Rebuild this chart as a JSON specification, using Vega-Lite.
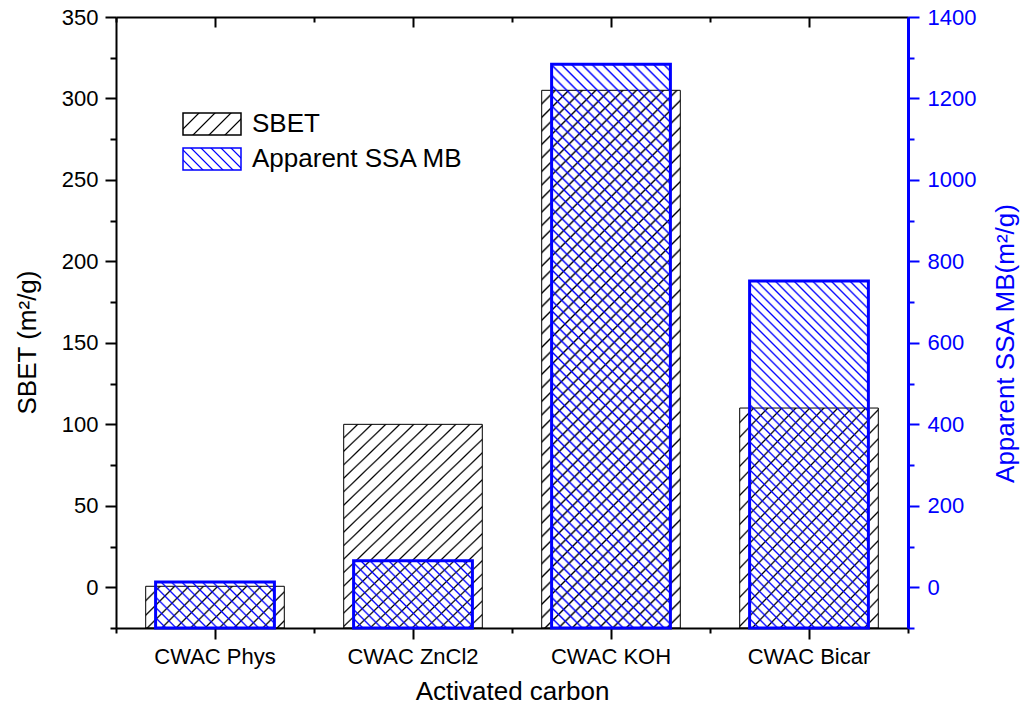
{
"$schema": "https://vega.github.io/schema/vega-lite/v6.json",
"width": 792,
"height": 611,
"autosize": {"type": "none"},
"padding": {"left": 116, "top": 17, "right": 116, "bottom": 87},
"background": "white",
"config": {
  "view": {"stroke": null},
  "font": "Liberation Sans",
  "axis": {"grid": false, "zindex": 1, "labelFont": "Liberation Sans", "titleFont": "Liberation Sans", "labelFontSize": 22, "titleFontSize": 26, "titleFontWeight": "normal", "domainWidth": 2, "tickWidth": 2, "domainColor": "#000", "tickColor": "#000", "labelColor": "#000", "titleColor": "#000"},
  "legend": {"title": null, "orient": "none", "legendX": 66, "legendY": 94.5, "direction": "vertical", "symbolSize": 3364, "symbolOpacity": 1, "clipHeight": 25, "rowPadding": 8, "labelOffset": 10, "labelFont": "Liberation Sans", "labelFontSize": 26, "labelColor": "#000", "labelLimit": 400, "padding": 0}
},
"data": {"values": [
  {"cat": "CWAC Phys", "sbet": 0.6, "ssa": 13},
  {"cat": "CWAC ZnCl2", "sbet": 100, "ssa": 65},
  {"cat": "CWAC KOH", "sbet": 305, "ssa": 1284},
  {"cat": "CWAC Bicar", "sbet": 110, "ssa": 752}
]},
"layer": [
{
  "mark": {"type": "bar", "width": {"band": 0.7}, "stroke": "#000", "strokeWidth": 1},
  "encoding": {
    "x": {"field": "cat", "type": "nominal", "scale": {"domain": ["CWAC Phys", "CWAC ZnCl2", "CWAC KOH", "CWAC Bicar"], "paddingInner": 0, "paddingOuter": 0},
      "axis": {"orient": "bottom", "title": "Activated carbon", "labelAngle": 0, "tickSize": 11, "labelPadding": 7, "titleX": 396, "titleY": 71, "titleBaseline": "alphabetic"}},
    "y": {"field": "sbet", "type": "quantitative", "scale": {"domain": [-25, 350], "nice": false, "zero": false},
      "axis": {"orient": "left", "values": [0, 50, 100, 150, 200, 250, 300, 350], "tickSize": 11, "labelPadding": 7, "format": "d", "title": "SBET (m²/g)", "titleAngle": 270, "titleX": -76, "titleY": 325, "titleBaseline": "bottom", "titleAlign": "center"}},
    "y2": {"datum": -25},
    "fill": {
      "condition": [
        {"test": "datum.cat === 'CWAC Phys'", "value": {"gradient": "linear", "x1": 0, "y1": 0, "x2": 1.1929, "y2": 0.3589, "stops": [
{"offset":0.07,"color":"#0000"},{"offset":0.08,"color":"#000"},{"offset":0.09,"color":"#0000"},
{"offset":0.15,"color":"#0000"},{"offset":0.16,"color":"#000"},{"offset":0.17,"color":"#0000"},
{"offset":0.23,"color":"#0000"},{"offset":0.24,"color":"#000"},{"offset":0.25,"color":"#0000"},
{"offset":0.31,"color":"#0000"},{"offset":0.32,"color":"#000"},{"offset":0.33,"color":"#0000"},
{"offset":0.39,"color":"#0000"},{"offset":0.40,"color":"#000"},{"offset":0.41,"color":"#0000"},
{"offset":0.47,"color":"#0000"},{"offset":0.48,"color":"#000"},{"offset":0.49,"color":"#0000"},
{"offset":0.55,"color":"#0000"},{"offset":0.56,"color":"#000"},{"offset":0.57,"color":"#0000"},
{"offset":0.63,"color":"#0000"},{"offset":0.64,"color":"#000"},{"offset":0.65,"color":"#0000"},
{"offset":0.71,"color":"#0000"},{"offset":0.72,"color":"#000"},{"offset":0.73,"color":"#0000"},
{"offset":0.79,"color":"#0000"},{"offset":0.80,"color":"#000"},{"offset":0.81,"color":"#0000"},
{"offset":0.87,"color":"#0000"},{"offset":0.88,"color":"#000"},{"offset":0.89,"color":"#0000"},
{"offset":0.95,"color":"#0000"},{"offset":0.96,"color":"#000"},{"offset":0.97,"color":"#0000"}
        ]}},
        {"test": "datum.cat === 'CWAC KOH'", "value": {"gradient": "linear", "x1": 0, "y1": 0, "x2": 0.3040, "y2": 1.1794, "stops": [
{"offset":0.017,"color":"#0000"},{"offset":0.02,"color":"#000"},{"offset":0.023,"color":"#0000"},
{"offset":0.037,"color":"#0000"},{"offset":0.04,"color":"#000"},{"offset":0.043,"color":"#0000"},
{"offset":0.057,"color":"#0000"},{"offset":0.06,"color":"#000"},{"offset":0.063,"color":"#0000"},
{"offset":0.077,"color":"#0000"},{"offset":0.08,"color":"#000"},{"offset":0.083,"color":"#0000"},
{"offset":0.097,"color":"#0000"},{"offset":0.1,"color":"#000"},{"offset":0.103,"color":"#0000"},
{"offset":0.117,"color":"#0000"},{"offset":0.12,"color":"#000"},{"offset":0.123,"color":"#0000"},
{"offset":0.137,"color":"#0000"},{"offset":0.14,"color":"#000"},{"offset":0.143,"color":"#0000"},
{"offset":0.157,"color":"#0000"},{"offset":0.16,"color":"#000"},{"offset":0.163,"color":"#0000"},
{"offset":0.177,"color":"#0000"},{"offset":0.18,"color":"#000"},{"offset":0.183,"color":"#0000"},
{"offset":0.197,"color":"#0000"},{"offset":0.2,"color":"#000"},{"offset":0.203,"color":"#0000"},
{"offset":0.217,"color":"#0000"},{"offset":0.22,"color":"#000"},{"offset":0.223,"color":"#0000"},
{"offset":0.237,"color":"#0000"},{"offset":0.24,"color":"#000"},{"offset":0.243,"color":"#0000"},
{"offset":0.257,"color":"#0000"},{"offset":0.26,"color":"#000"},{"offset":0.263,"color":"#0000"},
{"offset":0.277,"color":"#0000"},{"offset":0.28,"color":"#000"},{"offset":0.283,"color":"#0000"},
{"offset":0.297,"color":"#0000"},{"offset":0.3,"color":"#000"},{"offset":0.303,"color":"#0000"},
{"offset":0.317,"color":"#0000"},{"offset":0.32,"color":"#000"},{"offset":0.323,"color":"#0000"},
{"offset":0.337,"color":"#0000"},{"offset":0.34,"color":"#000"},{"offset":0.343,"color":"#0000"},
{"offset":0.357,"color":"#0000"},{"offset":0.36,"color":"#000"},{"offset":0.363,"color":"#0000"},
{"offset":0.377,"color":"#0000"},{"offset":0.38,"color":"#000"},{"offset":0.383,"color":"#0000"},
{"offset":0.397,"color":"#0000"},{"offset":0.4,"color":"#000"},{"offset":0.403,"color":"#0000"},
{"offset":0.417,"color":"#0000"},{"offset":0.42,"color":"#000"},{"offset":0.423,"color":"#0000"},
{"offset":0.437,"color":"#0000"},{"offset":0.44,"color":"#000"},{"offset":0.443,"color":"#0000"},
{"offset":0.457,"color":"#0000"},{"offset":0.46,"color":"#000"},{"offset":0.463,"color":"#0000"},
{"offset":0.477,"color":"#0000"},{"offset":0.48,"color":"#000"},{"offset":0.483,"color":"#0000"},
{"offset":0.497,"color":"#0000"},{"offset":0.5,"color":"#000"},{"offset":0.503,"color":"#0000"},
{"offset":0.517,"color":"#0000"},{"offset":0.52,"color":"#000"},{"offset":0.523,"color":"#0000"},
{"offset":0.537,"color":"#0000"},{"offset":0.54,"color":"#000"},{"offset":0.543,"color":"#0000"},
{"offset":0.557,"color":"#0000"},{"offset":0.56,"color":"#000"},{"offset":0.563,"color":"#0000"},
{"offset":0.577,"color":"#0000"},{"offset":0.58,"color":"#000"},{"offset":0.583,"color":"#0000"},
{"offset":0.597,"color":"#0000"},{"offset":0.6,"color":"#000"},{"offset":0.603,"color":"#0000"},
{"offset":0.617,"color":"#0000"},{"offset":0.62,"color":"#000"},{"offset":0.623,"color":"#0000"},
{"offset":0.637,"color":"#0000"},{"offset":0.64,"color":"#000"},{"offset":0.643,"color":"#0000"},
{"offset":0.657,"color":"#0000"},{"offset":0.66,"color":"#000"},{"offset":0.663,"color":"#0000"},
{"offset":0.677,"color":"#0000"},{"offset":0.68,"color":"#000"},{"offset":0.683,"color":"#0000"},
{"offset":0.697,"color":"#0000"},{"offset":0.7,"color":"#000"},{"offset":0.703,"color":"#0000"},
{"offset":0.717,"color":"#0000"},{"offset":0.72,"color":"#000"},{"offset":0.723,"color":"#0000"},
{"offset":0.737,"color":"#0000"},{"offset":0.74,"color":"#000"},{"offset":0.743,"color":"#0000"},
{"offset":0.757,"color":"#0000"},{"offset":0.76,"color":"#000"},{"offset":0.763,"color":"#0000"},
{"offset":0.777,"color":"#0000"},{"offset":0.78,"color":"#000"},{"offset":0.783,"color":"#0000"},
{"offset":0.797,"color":"#0000"},{"offset":0.8,"color":"#000"},{"offset":0.803,"color":"#0000"},
{"offset":0.817,"color":"#0000"},{"offset":0.82,"color":"#000"},{"offset":0.823,"color":"#0000"},
{"offset":0.837,"color":"#0000"},{"offset":0.84,"color":"#000"},{"offset":0.843,"color":"#0000"},
{"offset":0.857,"color":"#0000"},{"offset":0.86,"color":"#000"},{"offset":0.863,"color":"#0000"},
{"offset":0.877,"color":"#0000"},{"offset":0.88,"color":"#000"},{"offset":0.883,"color":"#0000"},
{"offset":0.897,"color":"#0000"},{"offset":0.9,"color":"#000"},{"offset":0.903,"color":"#0000"},
{"offset":0.917,"color":"#0000"},{"offset":0.92,"color":"#000"},{"offset":0.923,"color":"#0000"},
{"offset":0.937,"color":"#0000"},{"offset":0.94,"color":"#000"},{"offset":0.943,"color":"#0000"},
{"offset":0.957,"color":"#0000"},{"offset":0.96,"color":"#000"},{"offset":0.963,"color":"#0000"},
{"offset":0.977,"color":"#0000"},{"offset":0.98,"color":"#000"},{"offset":0.983,"color":"#0000"}
        ]}}
      ],
      "value": {"gradient": "linear", "x1": 0, "y1": 0, "x2": 0.7575, "y2": 1.1586, "stops": [
{"offset":0.035,"color":"#0000"},{"offset":0.04,"color":"#000"},{"offset":0.045,"color":"#0000"},
{"offset":0.075,"color":"#0000"},{"offset":0.08,"color":"#000"},{"offset":0.085,"color":"#0000"},
{"offset":0.115,"color":"#0000"},{"offset":0.12,"color":"#000"},{"offset":0.125,"color":"#0000"},
{"offset":0.155,"color":"#0000"},{"offset":0.16,"color":"#000"},{"offset":0.165,"color":"#0000"},
{"offset":0.195,"color":"#0000"},{"offset":0.2,"color":"#000"},{"offset":0.205,"color":"#0000"},
{"offset":0.235,"color":"#0000"},{"offset":0.24,"color":"#000"},{"offset":0.245,"color":"#0000"},
{"offset":0.275,"color":"#0000"},{"offset":0.28,"color":"#000"},{"offset":0.285,"color":"#0000"},
{"offset":0.315,"color":"#0000"},{"offset":0.32,"color":"#000"},{"offset":0.325,"color":"#0000"},
{"offset":0.355,"color":"#0000"},{"offset":0.36,"color":"#000"},{"offset":0.365,"color":"#0000"},
{"offset":0.395,"color":"#0000"},{"offset":0.4,"color":"#000"},{"offset":0.405,"color":"#0000"},
{"offset":0.435,"color":"#0000"},{"offset":0.44,"color":"#000"},{"offset":0.445,"color":"#0000"},
{"offset":0.475,"color":"#0000"},{"offset":0.48,"color":"#000"},{"offset":0.485,"color":"#0000"},
{"offset":0.515,"color":"#0000"},{"offset":0.52,"color":"#000"},{"offset":0.525,"color":"#0000"},
{"offset":0.555,"color":"#0000"},{"offset":0.56,"color":"#000"},{"offset":0.565,"color":"#0000"},
{"offset":0.595,"color":"#0000"},{"offset":0.6,"color":"#000"},{"offset":0.605,"color":"#0000"},
{"offset":0.635,"color":"#0000"},{"offset":0.64,"color":"#000"},{"offset":0.645,"color":"#0000"},
{"offset":0.675,"color":"#0000"},{"offset":0.68,"color":"#000"},{"offset":0.685,"color":"#0000"},
{"offset":0.715,"color":"#0000"},{"offset":0.72,"color":"#000"},{"offset":0.725,"color":"#0000"},
{"offset":0.755,"color":"#0000"},{"offset":0.76,"color":"#000"},{"offset":0.765,"color":"#0000"},
{"offset":0.795,"color":"#0000"},{"offset":0.8,"color":"#000"},{"offset":0.805,"color":"#0000"},
{"offset":0.835,"color":"#0000"},{"offset":0.84,"color":"#000"},{"offset":0.845,"color":"#0000"},
{"offset":0.875,"color":"#0000"},{"offset":0.88,"color":"#000"},{"offset":0.885,"color":"#0000"},
{"offset":0.915,"color":"#0000"},{"offset":0.92,"color":"#000"},{"offset":0.925,"color":"#0000"},
{"offset":0.955,"color":"#0000"},{"offset":0.96,"color":"#000"},{"offset":0.965,"color":"#0000"}
      ]}
    }
  }
},
{
  "mark": {"type": "bar", "width": {"band": 0.6}, "stroke": "#0000ff", "strokeWidth": 3},
  "encoding": {
    "x": {"field": "cat", "type": "nominal", "scale": {"domain": ["CWAC Phys", "CWAC ZnCl2", "CWAC KOH", "CWAC Bicar"], "paddingInner": 0, "paddingOuter": 0}, "axis": null},
    "y": {"field": "ssa", "type": "quantitative", "scale": {"domain": [-100, 1400], "nice": false, "zero": false},
      "axis": {"orient": "right", "values": [0, 200, 400, 600, 800, 1000, 1200, 1400], "tickSize": 11, "labelPadding": 8, "format": "d", "domainColor": "#0000ff", "domainWidth": 3, "tickColor": "#0000ff", "labelColor": "#0000ff", "titleColor": "#0000ff", "title": "Apparent SSA MB(m²/g)", "titleAngle": 270, "titleX": 110, "titleY": 326, "titleBaseline": "bottom", "titleAlign": "center"}},
    "y2": {"datum": -100},
    "fill": {
      "condition": [
        {"test": "datum.cat === 'CWAC Phys'", "value": {"gradient": "linear", "x1": 0, "y1": 1, "x2": 1.2064, "y2": 0.5329, "stops": [
{"offset":0.0515,"color":"#00f0"},{"offset":0.0625,"color":"#00f"},{"offset":0.0735,"color":"#00f0"},
{"offset":0.114,"color":"#00f0"},{"offset":0.125,"color":"#00f"},{"offset":0.136,"color":"#00f0"},
{"offset":0.1765,"color":"#00f0"},{"offset":0.1875,"color":"#00f"},{"offset":0.1985,"color":"#00f0"},
{"offset":0.239,"color":"#00f0"},{"offset":0.25,"color":"#00f"},{"offset":0.261,"color":"#00f0"},
{"offset":0.3015,"color":"#00f0"},{"offset":0.3125,"color":"#00f"},{"offset":0.3235,"color":"#00f0"},
{"offset":0.364,"color":"#00f0"},{"offset":0.375,"color":"#00f"},{"offset":0.386,"color":"#00f0"},
{"offset":0.4265,"color":"#00f0"},{"offset":0.4375,"color":"#00f"},{"offset":0.4485,"color":"#00f0"},
{"offset":0.489,"color":"#00f0"},{"offset":0.5,"color":"#00f"},{"offset":0.511,"color":"#00f0"},
{"offset":0.5515,"color":"#00f0"},{"offset":0.5625,"color":"#00f"},{"offset":0.5735,"color":"#00f0"},
{"offset":0.614,"color":"#00f0"},{"offset":0.625,"color":"#00f"},{"offset":0.636,"color":"#00f0"},
{"offset":0.6765,"color":"#00f0"},{"offset":0.6875,"color":"#00f"},{"offset":0.6985,"color":"#00f0"},
{"offset":0.739,"color":"#00f0"},{"offset":0.75,"color":"#00f"},{"offset":0.761,"color":"#00f0"},
{"offset":0.8015,"color":"#00f0"},{"offset":0.8125,"color":"#00f"},{"offset":0.8235,"color":"#00f0"},
{"offset":0.864,"color":"#00f0"},{"offset":0.875,"color":"#00f"},{"offset":0.886,"color":"#00f0"},
{"offset":0.9265,"color":"#00f0"},{"offset":0.9375,"color":"#00f"},{"offset":0.9485,"color":"#00f0"}
        ]}},
        {"test": "datum.cat === 'CWAC ZnCl2'", "value": {"gradient": "linear", "x1": 0, "y1": 1, "x2": 1.1861, "y2": 0.3291, "stops": [
{"offset":0.04,"color":"#00f0"},{"offset":0.05,"color":"#00f"},{"offset":0.06,"color":"#00f0"},
{"offset":0.09,"color":"#00f0"},{"offset":0.1,"color":"#00f"},{"offset":0.11,"color":"#00f0"},
{"offset":0.14,"color":"#00f0"},{"offset":0.15,"color":"#00f"},{"offset":0.16,"color":"#00f0"},
{"offset":0.19,"color":"#00f0"},{"offset":0.2,"color":"#00f"},{"offset":0.21,"color":"#00f0"},
{"offset":0.24,"color":"#00f0"},{"offset":0.25,"color":"#00f"},{"offset":0.26,"color":"#00f0"},
{"offset":0.29,"color":"#00f0"},{"offset":0.3,"color":"#00f"},{"offset":0.31,"color":"#00f0"},
{"offset":0.34,"color":"#00f0"},{"offset":0.35,"color":"#00f"},{"offset":0.36,"color":"#00f0"},
{"offset":0.39,"color":"#00f0"},{"offset":0.4,"color":"#00f"},{"offset":0.41,"color":"#00f0"},
{"offset":0.44,"color":"#00f0"},{"offset":0.45,"color":"#00f"},{"offset":0.46,"color":"#00f0"},
{"offset":0.49,"color":"#00f0"},{"offset":0.5,"color":"#00f"},{"offset":0.51,"color":"#00f0"},
{"offset":0.54,"color":"#00f0"},{"offset":0.55,"color":"#00f"},{"offset":0.56,"color":"#00f0"},
{"offset":0.59,"color":"#00f0"},{"offset":0.6,"color":"#00f"},{"offset":0.61,"color":"#00f0"},
{"offset":0.64,"color":"#00f0"},{"offset":0.65,"color":"#00f"},{"offset":0.66,"color":"#00f0"},
{"offset":0.69,"color":"#00f0"},{"offset":0.7,"color":"#00f"},{"offset":0.71,"color":"#00f0"},
{"offset":0.74,"color":"#00f0"},{"offset":0.75,"color":"#00f"},{"offset":0.76,"color":"#00f0"},
{"offset":0.79,"color":"#00f0"},{"offset":0.8,"color":"#00f"},{"offset":0.81,"color":"#00f0"},
{"offset":0.84,"color":"#00f0"},{"offset":0.85,"color":"#00f"},{"offset":0.86,"color":"#00f0"},
{"offset":0.89,"color":"#00f0"},{"offset":0.9,"color":"#00f"},{"offset":0.91,"color":"#00f0"},
{"offset":0.94,"color":"#00f0"},{"offset":0.95,"color":"#00f"},{"offset":0.96,"color":"#00f0"}
        ]}},
        {"test": "datum.cat === 'CWAC KOH'", "value": {"gradient": "linear", "x1": 0, "y1": 1, "x2": 0.2443, "y2": -0.1592, "stops": [
{"offset":0.012,"color":"#00f0"},{"offset":0.015,"color":"#00f"},{"offset":0.018,"color":"#00f0"},
{"offset":0.027,"color":"#00f0"},{"offset":0.03,"color":"#00f"},{"offset":0.033,"color":"#00f0"},
{"offset":0.042,"color":"#00f0"},{"offset":0.045,"color":"#00f"},{"offset":0.048,"color":"#00f0"},
{"offset":0.057,"color":"#00f0"},{"offset":0.06,"color":"#00f"},{"offset":0.063,"color":"#00f0"},
{"offset":0.072,"color":"#00f0"},{"offset":0.075,"color":"#00f"},{"offset":0.078,"color":"#00f0"},
{"offset":0.087,"color":"#00f0"},{"offset":0.09,"color":"#00f"},{"offset":0.093,"color":"#00f0"},
{"offset":0.102,"color":"#00f0"},{"offset":0.105,"color":"#00f"},{"offset":0.108,"color":"#00f0"},
{"offset":0.117,"color":"#00f0"},{"offset":0.12,"color":"#00f"},{"offset":0.123,"color":"#00f0"},
{"offset":0.132,"color":"#00f0"},{"offset":0.135,"color":"#00f"},{"offset":0.138,"color":"#00f0"},
{"offset":0.147,"color":"#00f0"},{"offset":0.15,"color":"#00f"},{"offset":0.153,"color":"#00f0"},
{"offset":0.162,"color":"#00f0"},{"offset":0.165,"color":"#00f"},{"offset":0.168,"color":"#00f0"},
{"offset":0.177,"color":"#00f0"},{"offset":0.18,"color":"#00f"},{"offset":0.183,"color":"#00f0"},
{"offset":0.192,"color":"#00f0"},{"offset":0.195,"color":"#00f"},{"offset":0.198,"color":"#00f0"},
{"offset":0.207,"color":"#00f0"},{"offset":0.21,"color":"#00f"},{"offset":0.213,"color":"#00f0"},
{"offset":0.222,"color":"#00f0"},{"offset":0.225,"color":"#00f"},{"offset":0.228,"color":"#00f0"},
{"offset":0.237,"color":"#00f0"},{"offset":0.24,"color":"#00f"},{"offset":0.243,"color":"#00f0"},
{"offset":0.252,"color":"#00f0"},{"offset":0.255,"color":"#00f"},{"offset":0.258,"color":"#00f0"},
{"offset":0.267,"color":"#00f0"},{"offset":0.27,"color":"#00f"},{"offset":0.273,"color":"#00f0"},
{"offset":0.282,"color":"#00f0"},{"offset":0.285,"color":"#00f"},{"offset":0.288,"color":"#00f0"},
{"offset":0.297,"color":"#00f0"},{"offset":0.3,"color":"#00f"},{"offset":0.303,"color":"#00f0"},
{"offset":0.312,"color":"#00f0"},{"offset":0.315,"color":"#00f"},{"offset":0.318,"color":"#00f0"},
{"offset":0.327,"color":"#00f0"},{"offset":0.33,"color":"#00f"},{"offset":0.333,"color":"#00f0"},
{"offset":0.342,"color":"#00f0"},{"offset":0.345,"color":"#00f"},{"offset":0.348,"color":"#00f0"},
{"offset":0.357,"color":"#00f0"},{"offset":0.36,"color":"#00f"},{"offset":0.363,"color":"#00f0"},
{"offset":0.372,"color":"#00f0"},{"offset":0.375,"color":"#00f"},{"offset":0.378,"color":"#00f0"},
{"offset":0.387,"color":"#00f0"},{"offset":0.39,"color":"#00f"},{"offset":0.393,"color":"#00f0"},
{"offset":0.402,"color":"#00f0"},{"offset":0.405,"color":"#00f"},{"offset":0.408,"color":"#00f0"},
{"offset":0.417,"color":"#00f0"},{"offset":0.42,"color":"#00f"},{"offset":0.423,"color":"#00f0"},
{"offset":0.432,"color":"#00f0"},{"offset":0.435,"color":"#00f"},{"offset":0.438,"color":"#00f0"},
{"offset":0.447,"color":"#00f0"},{"offset":0.45,"color":"#00f"},{"offset":0.453,"color":"#00f0"},
{"offset":0.462,"color":"#00f0"},{"offset":0.465,"color":"#00f"},{"offset":0.468,"color":"#00f0"},
{"offset":0.477,"color":"#00f0"},{"offset":0.48,"color":"#00f"},{"offset":0.483,"color":"#00f0"},
{"offset":0.492,"color":"#00f0"},{"offset":0.495,"color":"#00f"},{"offset":0.498,"color":"#00f0"},
{"offset":0.507,"color":"#00f0"},{"offset":0.51,"color":"#00f"},{"offset":0.513,"color":"#00f0"},
{"offset":0.522,"color":"#00f0"},{"offset":0.525,"color":"#00f"},{"offset":0.528,"color":"#00f0"},
{"offset":0.537,"color":"#00f0"},{"offset":0.54,"color":"#00f"},{"offset":0.543,"color":"#00f0"},
{"offset":0.552,"color":"#00f0"},{"offset":0.555,"color":"#00f"},{"offset":0.558,"color":"#00f0"},
{"offset":0.567,"color":"#00f0"},{"offset":0.57,"color":"#00f"},{"offset":0.573,"color":"#00f0"},
{"offset":0.582,"color":"#00f0"},{"offset":0.585,"color":"#00f"},{"offset":0.588,"color":"#00f0"},
{"offset":0.597,"color":"#00f0"},{"offset":0.6,"color":"#00f"},{"offset":0.603,"color":"#00f0"},
{"offset":0.612,"color":"#00f0"},{"offset":0.615,"color":"#00f"},{"offset":0.618,"color":"#00f0"},
{"offset":0.627,"color":"#00f0"},{"offset":0.63,"color":"#00f"},{"offset":0.633,"color":"#00f0"},
{"offset":0.642,"color":"#00f0"},{"offset":0.645,"color":"#00f"},{"offset":0.648,"color":"#00f0"},
{"offset":0.657,"color":"#00f0"},{"offset":0.66,"color":"#00f"},{"offset":0.663,"color":"#00f0"},
{"offset":0.672,"color":"#00f0"},{"offset":0.675,"color":"#00f"},{"offset":0.678,"color":"#00f0"},
{"offset":0.687,"color":"#00f0"},{"offset":0.69,"color":"#00f"},{"offset":0.693,"color":"#00f0"},
{"offset":0.702,"color":"#00f0"},{"offset":0.705,"color":"#00f"},{"offset":0.708,"color":"#00f0"},
{"offset":0.717,"color":"#00f0"},{"offset":0.72,"color":"#00f"},{"offset":0.723,"color":"#00f0"},
{"offset":0.732,"color":"#00f0"},{"offset":0.735,"color":"#00f"},{"offset":0.738,"color":"#00f0"},
{"offset":0.747,"color":"#00f0"},{"offset":0.75,"color":"#00f"},{"offset":0.753,"color":"#00f0"},
{"offset":0.762,"color":"#00f0"},{"offset":0.765,"color":"#00f"},{"offset":0.768,"color":"#00f0"},
{"offset":0.777,"color":"#00f0"},{"offset":0.78,"color":"#00f"},{"offset":0.783,"color":"#00f0"},
{"offset":0.792,"color":"#00f0"},{"offset":0.795,"color":"#00f"},{"offset":0.798,"color":"#00f0"},
{"offset":0.807,"color":"#00f0"},{"offset":0.81,"color":"#00f"},{"offset":0.813,"color":"#00f0"},
{"offset":0.822,"color":"#00f0"},{"offset":0.825,"color":"#00f"},{"offset":0.828,"color":"#00f0"},
{"offset":0.837,"color":"#00f0"},{"offset":0.84,"color":"#00f"},{"offset":0.843,"color":"#00f0"},
{"offset":0.852,"color":"#00f0"},{"offset":0.855,"color":"#00f"},{"offset":0.858,"color":"#00f0"},
{"offset":0.867,"color":"#00f0"},{"offset":0.87,"color":"#00f"},{"offset":0.873,"color":"#00f0"},
{"offset":0.882,"color":"#00f0"},{"offset":0.885,"color":"#00f"},{"offset":0.888,"color":"#00f0"},
{"offset":0.897,"color":"#00f0"},{"offset":0.9,"color":"#00f"},{"offset":0.903,"color":"#00f0"},
{"offset":0.912,"color":"#00f0"},{"offset":0.915,"color":"#00f"},{"offset":0.918,"color":"#00f0"},
{"offset":0.927,"color":"#00f0"},{"offset":0.93,"color":"#00f"},{"offset":0.933,"color":"#00f0"},
{"offset":0.942,"color":"#00f0"},{"offset":0.945,"color":"#00f"},{"offset":0.948,"color":"#00f0"},
{"offset":0.957,"color":"#00f0"},{"offset":0.96,"color":"#00f"},{"offset":0.963,"color":"#00f0"},
{"offset":0.972,"color":"#00f0"},{"offset":0.975,"color":"#00f"},{"offset":0.978,"color":"#00f0"},
{"offset":0.987,"color":"#00f0"},{"offset":0.99,"color":"#00f"},{"offset":0.993,"color":"#00f0"}
        ]}}
      ],
      "value": {"gradient": "linear", "x1": 0, "y1": 1, "x2": 0.4114, "y2": -0.2015, "stops": [
{"offset":0.016,"color":"#00f0"},{"offset":0.02,"color":"#00f"},{"offset":0.024,"color":"#00f0"},
{"offset":0.036,"color":"#00f0"},{"offset":0.04,"color":"#00f"},{"offset":0.044,"color":"#00f0"},
{"offset":0.056,"color":"#00f0"},{"offset":0.06,"color":"#00f"},{"offset":0.064,"color":"#00f0"},
{"offset":0.076,"color":"#00f0"},{"offset":0.08,"color":"#00f"},{"offset":0.084,"color":"#00f0"},
{"offset":0.096,"color":"#00f0"},{"offset":0.1,"color":"#00f"},{"offset":0.104,"color":"#00f0"},
{"offset":0.116,"color":"#00f0"},{"offset":0.12,"color":"#00f"},{"offset":0.124,"color":"#00f0"},
{"offset":0.136,"color":"#00f0"},{"offset":0.14,"color":"#00f"},{"offset":0.144,"color":"#00f0"},
{"offset":0.156,"color":"#00f0"},{"offset":0.16,"color":"#00f"},{"offset":0.164,"color":"#00f0"},
{"offset":0.176,"color":"#00f0"},{"offset":0.18,"color":"#00f"},{"offset":0.184,"color":"#00f0"},
{"offset":0.196,"color":"#00f0"},{"offset":0.2,"color":"#00f"},{"offset":0.204,"color":"#00f0"},
{"offset":0.216,"color":"#00f0"},{"offset":0.22,"color":"#00f"},{"offset":0.224,"color":"#00f0"},
{"offset":0.236,"color":"#00f0"},{"offset":0.24,"color":"#00f"},{"offset":0.244,"color":"#00f0"},
{"offset":0.256,"color":"#00f0"},{"offset":0.26,"color":"#00f"},{"offset":0.264,"color":"#00f0"},
{"offset":0.276,"color":"#00f0"},{"offset":0.28,"color":"#00f"},{"offset":0.284,"color":"#00f0"},
{"offset":0.296,"color":"#00f0"},{"offset":0.3,"color":"#00f"},{"offset":0.304,"color":"#00f0"},
{"offset":0.316,"color":"#00f0"},{"offset":0.32,"color":"#00f"},{"offset":0.324,"color":"#00f0"},
{"offset":0.336,"color":"#00f0"},{"offset":0.34,"color":"#00f"},{"offset":0.344,"color":"#00f0"},
{"offset":0.356,"color":"#00f0"},{"offset":0.36,"color":"#00f"},{"offset":0.364,"color":"#00f0"},
{"offset":0.376,"color":"#00f0"},{"offset":0.38,"color":"#00f"},{"offset":0.384,"color":"#00f0"},
{"offset":0.396,"color":"#00f0"},{"offset":0.4,"color":"#00f"},{"offset":0.404,"color":"#00f0"},
{"offset":0.416,"color":"#00f0"},{"offset":0.42,"color":"#00f"},{"offset":0.424,"color":"#00f0"},
{"offset":0.436,"color":"#00f0"},{"offset":0.44,"color":"#00f"},{"offset":0.444,"color":"#00f0"},
{"offset":0.456,"color":"#00f0"},{"offset":0.46,"color":"#00f"},{"offset":0.464,"color":"#00f0"},
{"offset":0.476,"color":"#00f0"},{"offset":0.48,"color":"#00f"},{"offset":0.484,"color":"#00f0"},
{"offset":0.496,"color":"#00f0"},{"offset":0.5,"color":"#00f"},{"offset":0.504,"color":"#00f0"},
{"offset":0.516,"color":"#00f0"},{"offset":0.52,"color":"#00f"},{"offset":0.524,"color":"#00f0"},
{"offset":0.536,"color":"#00f0"},{"offset":0.54,"color":"#00f"},{"offset":0.544,"color":"#00f0"},
{"offset":0.556,"color":"#00f0"},{"offset":0.56,"color":"#00f"},{"offset":0.564,"color":"#00f0"},
{"offset":0.576,"color":"#00f0"},{"offset":0.58,"color":"#00f"},{"offset":0.584,"color":"#00f0"},
{"offset":0.596,"color":"#00f0"},{"offset":0.6,"color":"#00f"},{"offset":0.604,"color":"#00f0"},
{"offset":0.616,"color":"#00f0"},{"offset":0.62,"color":"#00f"},{"offset":0.624,"color":"#00f0"},
{"offset":0.636,"color":"#00f0"},{"offset":0.64,"color":"#00f"},{"offset":0.644,"color":"#00f0"},
{"offset":0.656,"color":"#00f0"},{"offset":0.66,"color":"#00f"},{"offset":0.664,"color":"#00f0"},
{"offset":0.676,"color":"#00f0"},{"offset":0.68,"color":"#00f"},{"offset":0.684,"color":"#00f0"},
{"offset":0.696,"color":"#00f0"},{"offset":0.7,"color":"#00f"},{"offset":0.704,"color":"#00f0"},
{"offset":0.716,"color":"#00f0"},{"offset":0.72,"color":"#00f"},{"offset":0.724,"color":"#00f0"},
{"offset":0.736,"color":"#00f0"},{"offset":0.74,"color":"#00f"},{"offset":0.744,"color":"#00f0"},
{"offset":0.756,"color":"#00f0"},{"offset":0.76,"color":"#00f"},{"offset":0.764,"color":"#00f0"},
{"offset":0.776,"color":"#00f0"},{"offset":0.78,"color":"#00f"},{"offset":0.784,"color":"#00f0"},
{"offset":0.796,"color":"#00f0"},{"offset":0.8,"color":"#00f"},{"offset":0.804,"color":"#00f0"},
{"offset":0.816,"color":"#00f0"},{"offset":0.82,"color":"#00f"},{"offset":0.824,"color":"#00f0"},
{"offset":0.836,"color":"#00f0"},{"offset":0.84,"color":"#00f"},{"offset":0.844,"color":"#00f0"},
{"offset":0.856,"color":"#00f0"},{"offset":0.86,"color":"#00f"},{"offset":0.864,"color":"#00f0"},
{"offset":0.876,"color":"#00f0"},{"offset":0.88,"color":"#00f"},{"offset":0.884,"color":"#00f0"},
{"offset":0.896,"color":"#00f0"},{"offset":0.9,"color":"#00f"},{"offset":0.904,"color":"#00f0"},
{"offset":0.916,"color":"#00f0"},{"offset":0.92,"color":"#00f"},{"offset":0.924,"color":"#00f0"},
{"offset":0.936,"color":"#00f0"},{"offset":0.94,"color":"#00f"},{"offset":0.944,"color":"#00f0"},
{"offset":0.956,"color":"#00f0"},{"offset":0.96,"color":"#00f"},{"offset":0.964,"color":"#00f0"},
{"offset":0.976,"color":"#00f0"},{"offset":0.98,"color":"#00f"},{"offset":0.984,"color":"#00f0"}
      ]}
    }
  }
},
{
  "data": {"values": [{"series": "SBET"}, {"series": "Apparent SSA MB"}]},
  "mark": {"type": "point", "filled": true, "opacity": 0, "size": 3364,
    "fill": {"expr": "(datum.value || datum.series) === 'SBET' ? {gradient:'linear',x1:0,y1:0,x2:1.2058,y2:0.4574,stops:[{offset:0.18,color:'#0000'},{offset:0.2,color:'#000'},{offset:0.22,color:'#0000'},{offset:0.38,color:'#0000'},{offset:0.4,color:'#000'},{offset:0.42,color:'#0000'},{offset:0.58,color:'#0000'},{offset:0.6,color:'#000'},{offset:0.62,color:'#0000'},{offset:0.78,color:'#0000'},{offset:0.8,color:'#000'},{offset:0.82,color:'#0000'}]} : {gradient:'linear',x1:0,y1:1,x2:1.2058,y2:0.5426,stops:[{offset:0.105,color:'#00f0'},{offset:0.125,color:'#00f'},{offset:0.145,color:'#00f0'},{offset:0.23,color:'#00f0'},{offset:0.25,color:'#00f'},{offset:0.27,color:'#00f0'},{offset:0.355,color:'#00f0'},{offset:0.375,color:'#00f'},{offset:0.395,color:'#00f0'},{offset:0.48,color:'#00f0'},{offset:0.5,color:'#00f'},{offset:0.52,color:'#00f0'},{offset:0.605,color:'#00f0'},{offset:0.625,color:'#00f'},{offset:0.645,color:'#00f0'},{offset:0.73,color:'#00f0'},{offset:0.75,color:'#00f'},{offset:0.77,color:'#00f0'},{offset:0.855,color:'#00f0'},{offset:0.875,color:'#00f'},{offset:0.895,color:'#00f0'}]}"},
    "stroke": {"expr": "(datum.value || datum.series) === 'SBET' ? '#000000' : '#0000ff'"},
    "strokeWidth": {"expr": "(datum.value || datum.series) === 'SBET' ? 1 : 3"}
  },
  "encoding": {
    "x": {"datum": 0, "type": "quantitative", "scale": {"domain": [0, 4], "nice": false, "zero": false},
      "axis": {"orient": "bottom", "values": [0, 1, 2, 3, 4], "tickSize": 5, "domain": false, "labels": false, "title": null}},
    "y": {"datum": 0, "type": "quantitative", "scale": {"domain": [-25, 350], "nice": false, "zero": false},
      "axis": {"orient": "left", "values": [-25, 25, 75, 125, 175, 225, 275, 325], "tickSize": 6, "domain": false, "labels": false, "title": null}},
    "shape": {"field": "series", "type": "nominal", "scale": {"domain": ["SBET", "Apparent SSA MB"], "range": ["M-1,-0.38H1V0.38H-1Z", "M-1,-0.38H1V0.38H-1Z"]},
      "legend": {"symbolSize": 3364}}
  }
},
{
  "mark": {"type": "point", "opacity": 0},
  "encoding": {
    "x": {"datum": 0, "type": "quantitative", "scale": {"domain": [0, 4], "nice": false, "zero": false},
      "axis": {"orient": "top", "values": [0.5, 1.5, 2.5, 3.5], "tickSize": -10, "domain": true, "labels": false, "title": null}},
    "y": {"datum": 0, "type": "quantitative", "scale": {"domain": [-100, 1400], "nice": false, "zero": false},
      "axis": {"orient": "right", "values": [-100, 100, 300, 500, 700, 900, 1100, 1300], "tickSize": 6, "tickColor": "#0000ff", "domain": false, "labels": false, "title": null}}
  }
},
{
  "mark": {"type": "point", "opacity": 0},
  "encoding": {
    "x": {"datum": 0, "type": "quantitative", "scale": {"domain": [0, 4], "nice": false, "zero": false},
      "axis": {"orient": "top", "values": [0, 1, 2, 3, 4], "tickSize": -5, "domain": false, "labels": false, "title": null}}
  }
}
],
"resolve": {"scale": {"x": "independent", "y": "independent"}, "axis": {"x": "independent", "y": "independent"}}
}
